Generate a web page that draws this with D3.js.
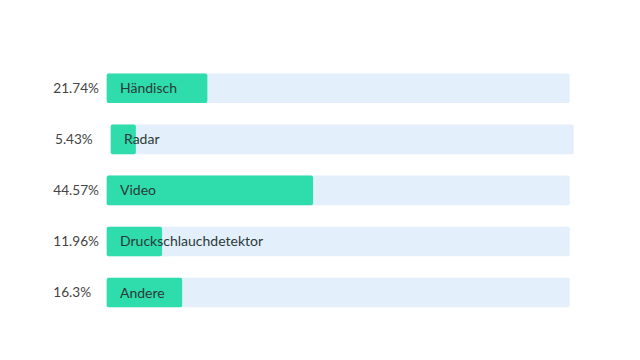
<!DOCTYPE html>
<html>
<head>
<meta charset="utf-8">
<script src="https://cdn.jsdelivr.net/npm/d3@7"></script>
<style>
  html, body { margin: 0; padding: 0; background: #ffffff; }
  svg { display: block; }
  text { font-family: Lato, "Open Sans", sans-serif; }
</style>
</head>
<body>
<svg id="chart" width="640" height="360"></svg>
<script>
const categories = ["Händisch", "Radar", "Video", "Druckschlauchdetektor", "Andere"];
const values = [21.74, 5.43, 44.57, 11.96, 16.3];
const valueLabels = ["21.74%", "5.43%", "44.57%", "11.96%", "16.3%"];

const svg = d3.select("#chart");

// the second row in the reference is slightly offset (mid-animation frame)
const rowShift = (i) => (i === 1 ? 4 : 0);
const labelShift = (i) => (i === 1 ? 1.7 : 0);

const x = d3.scaleLinear().domain([0, 100]).range([106.7, 569.7]);
const y = d3.scaleBand().domain(categories).range([73.5, 307.3]).paddingInner(0.42).paddingOuter(0);

const rows = svg.append("g").selectAll("g.row")
  .data(categories.map((c, i) => ({ c, v: values[i], l: valueLabels[i], i })))
  .join("g")
  .attr("class", "row");

rows.append("rect")
  .attr("x", d => x(0) + rowShift(d.i))
  .attr("y", d => y(d.c))
  .attr("width", x(100) - x(0))
  .attr("height", y.bandwidth())
  .attr("rx", 2)
  .attr("fill", "#e3f0fb");

rows.append("rect")
  .attr("x", d => x(0) + rowShift(d.i))
  .attr("y", d => y(d.c))
  .attr("width", d => x(d.v) - x(0))
  .attr("height", y.bandwidth())
  .attr("rx", 2)
  .attr("fill", "#2fdcab");

rows.append("text")
  .attr("x", d => x(0) + 13.3 + rowShift(d.i))
  .attr("y", d => y(d.c) + y.bandwidth() / 2)
  .attr("dy", "0.36em")
  .attr("font-size", 14)
  .attr("fill", "#2b3a38")
  .text(d => d.c);

rows.append("text")
  .attr("x", d => 53.3 + labelShift(d.i))
  .attr("y", d => y(d.c) + y.bandwidth() / 2)
  .attr("dy", "0.36em")
  .attr("font-size", 13.6)
  .attr("fill", "#444444")
  .text(d => d.l);
</script>
</body>
</html>
